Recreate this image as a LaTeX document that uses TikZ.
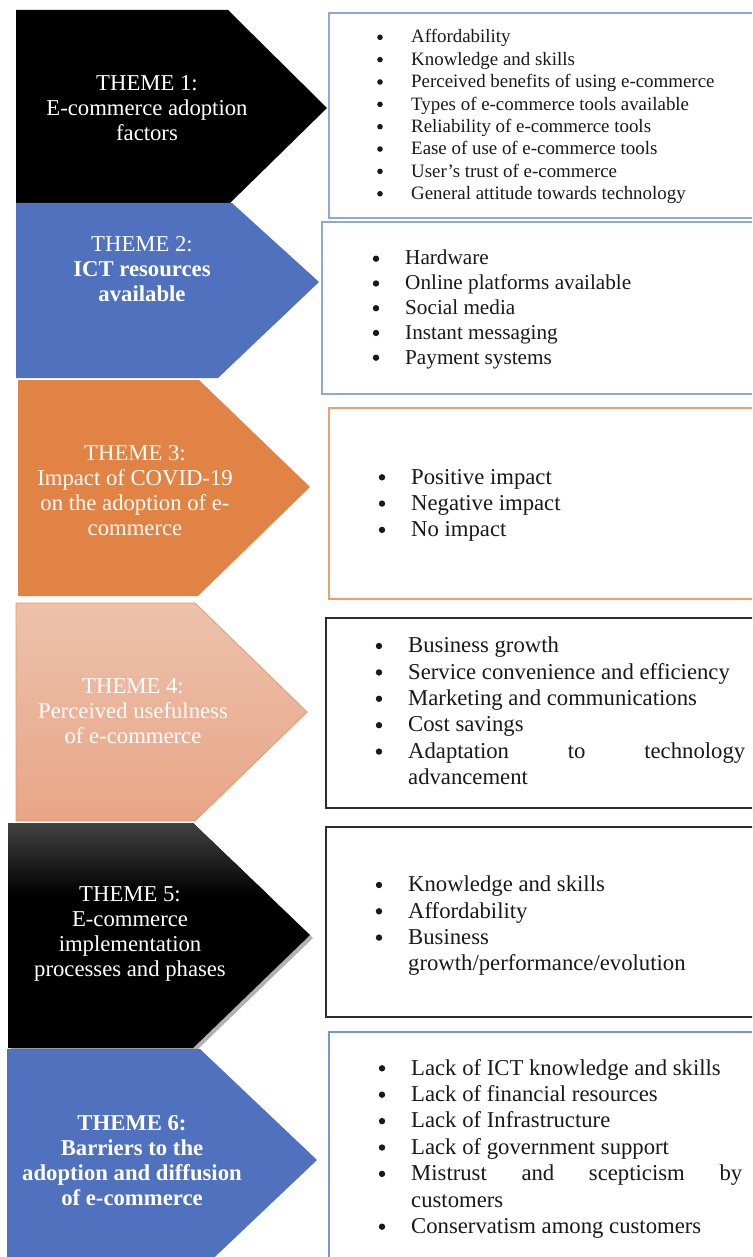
\documentclass[tikz,border=0pt]{standalone}
\usepackage{fontspec}
\setmainfont{Liberation Serif}
\usetikzlibrary{shadows}

\definecolor{themeblue}{RGB}{79,113,190}
\definecolor{themeorange}{RGB}{224,131,69}
\definecolor{peachtop}{RGB}{237,193,172}
\definecolor{peachbot}{RGB}{232,166,134}
\definecolor{peachline}{RGB}{232,150,108}
\definecolor{darktop}{RGB}{66,66,66}
\definecolor{boxblue}{RGB}{140,168,222}
\definecolor{boxblueb}{RGB}{118,148,214}
\definecolor{boxorange}{RGB}{240,158,108}
\definecolor{boxdark}{RGB}{45,45,45}
\definecolor{ink}{RGB}{25,25,25}

\begin{document}
\begin{tikzpicture}[x=1pt,y=-1pt,
  themetext/.style={text=white, align=center, inner sep=0pt,
    font=\fontsize{22.7}{25}\selectfont},
  listtext/.style={text=ink, anchor=base west, inner sep=0pt},
  dot/.style={circle, fill=ink, inner sep=0pt, minimum size=6.4pt},
  smalldot/.style={dot, minimum size=5.6pt},
  fsmall/.style={font=\fontsize{18.9}{22}\selectfont},
  fmid/.style={font=\fontsize{21.2}{24}\selectfont},
  flarge/.style={font=\fontsize{22.7}{26}\selectfont},
  panel/.style={line width=1.3pt, fill=white}]
\useasboundingbox (0,0) rectangle (752,1257);
\clip (0,0) rectangle (752,1257);

% ---------- theme arrows ----------
\fill[black] (16,10) -- (228,10) -- (327,108) -- (228,205) -- (16,205) -- cycle;
\fill[themeblue] (16,203) -- (232,203) -- (319,282) -- (218,378) -- (16,378) -- cycle;
\fill[themeorange] (18,380) -- (199,380) -- (310,487) -- (198,596) -- (18,596) -- cycle;
\path[top color=peachtop, bottom color=peachbot, draw=peachline, line width=0.8pt]
  (16,603) -- (195,603) -- (307,712) -- (195,821) -- (16,821) -- cycle;
\fill[black, drop shadow={shadow xshift=3pt, shadow yshift=-3pt, opacity=0.3, fill=black}]
  (8,823) -- (193,823) -- (310,935) -- (193,1048) -- (8,1048) -- cycle;
\begin{scope}
  \clip (8,823) -- (193,823) -- (310,935) -- (193,1048) -- (8,1048) -- cycle;
  \shade[top color=darktop, bottom color=black] (0,823) rectangle (330,895);
\end{scope}
\fill[themeblue] (7,1049) -- (200,1049) -- (317,1160) -- (200,1271) -- (7,1271) -- cycle;

\node[themetext] (t1) at (147,108) {THEME 1:\\E-commerce adoption\\factors};
\node[themetext] (t2) at (142,269) {THEME 2:\\\textbf{ICT resources}\\\textbf{available}};
\node[themetext] (t3) at (135,491) {THEME 3:\\Impact of COVID-19\\on the adoption of e-\\commerce};
\node[themetext] (t4) at (133,711) {THEME 4:\\Perceived usefulness\\of e-commerce};
\node[themetext] (t5) at (130,934) {THEME 5:\\E-commerce\\implementation\\processes and phases};
\node[themetext, font=\fontsize{22.7}{25}\selectfont\bfseries] (t6) at (132,1161)
  {THEME 6:\\Barriers to the\\adoption and diffusion\\of e-commerce};

% ---------- item panels ----------
\draw[panel, draw=boxblue] (329,13) rectangle (790,218);
\draw[panel, draw=boxblue] (322,222) rectangle (790,394);
\draw[panel, draw=boxorange] (329,408) rectangle (790,599);
\draw[panel, draw=boxdark] (326,618) rectangle (790,808);
\draw[panel, draw=boxdark] (326,827) rectangle (790,1017);
\draw[panel, draw=boxblueb] (329,1032) rectangle (790,1290);

% panel 1
\foreach \t [count=\i from 0] in {Affordability, Knowledge and skills,
    Perceived benefits of using e-commerce, Types of e-commerce tools available,
    Reliability of e-commerce tools, Ease of use of e-commerce tools,
    User’s trust of e-commerce, General attitude towards technology} {
  \node[smalldot] (a-dot\i) at (380,{43-5.7+22.35*\i}) {};
  \node[listtext, fsmall] (a-item\i) at (411,{43+22.35*\i}) {\t};
}

% panel 2
\foreach \t [count=\i from 0] in {Hardware, Online platforms available,
    Social media, Instant messaging, Payment systems} {
  \node[dot] (b-dot\i) at (376,{265-6.3+24.75*\i}) {};
  \node[listtext, fmid] (b-item\i) at (405,{265+24.75*\i}) {\t};
}

% panel 3
\foreach \t [count=\i from 0] in {Positive impact, Negative impact, No impact} {
  \node[dot] (c-dot\i) at (382,{484-6.7+26.3*\i}) {};
  \node[listtext, flarge] (c-item\i) at (411,{484+26.3*\i}) {\t};
}

% panel 4
\foreach \t [count=\i from 0] in {Business growth, Service convenience and efficiency,
    Marketing and communications, Cost savings,
    \makebox[337pt][s]{Adaptation to technology}} {
  \node[dot] (d-dot\i) at (379,{652.7-6.7+26.4*\i}) {};
  \node[listtext, flarge] (d-item\i) at (408,{652.7+26.4*\i}) {\t};
}
\node[listtext, flarge] (d-item5) at (408,784.7) {advancement};

% panel 5
\foreach \t [count=\i from 0] in {Knowledge and skills, Affordability, Business} {
  \node[dot] (e-dot\i) at (379,{891.7-6.7+26.3*\i}) {};
  \node[listtext, flarge] (e-item\i) at (408,{891.7+26.3*\i}) {\t};
}
\node[listtext, flarge] (e-item3) at (408,970.6) {growth/performance/evolution};

% panel 6
\foreach \t/\k [count=\i from 0] in {Lack of ICT knowledge and skills/0,
    Lack of financial resources/1, Lack of Infrastructure/2,
    Lack of government support/3,
    \makebox[331pt][s]{Mistrust and scepticism by}/4,
    Conservatism among customers/6} {
  \node[dot] (f-dot\i) at (382,{1075-6.7+26.4*\k}) {};
  \node[listtext, flarge] (f-item\i) at (411,{1075+26.4*\k}) {\t};
}
\node[listtext, flarge] (f-item6) at (411,1207) {customers};
\end{tikzpicture}
\end{document}
